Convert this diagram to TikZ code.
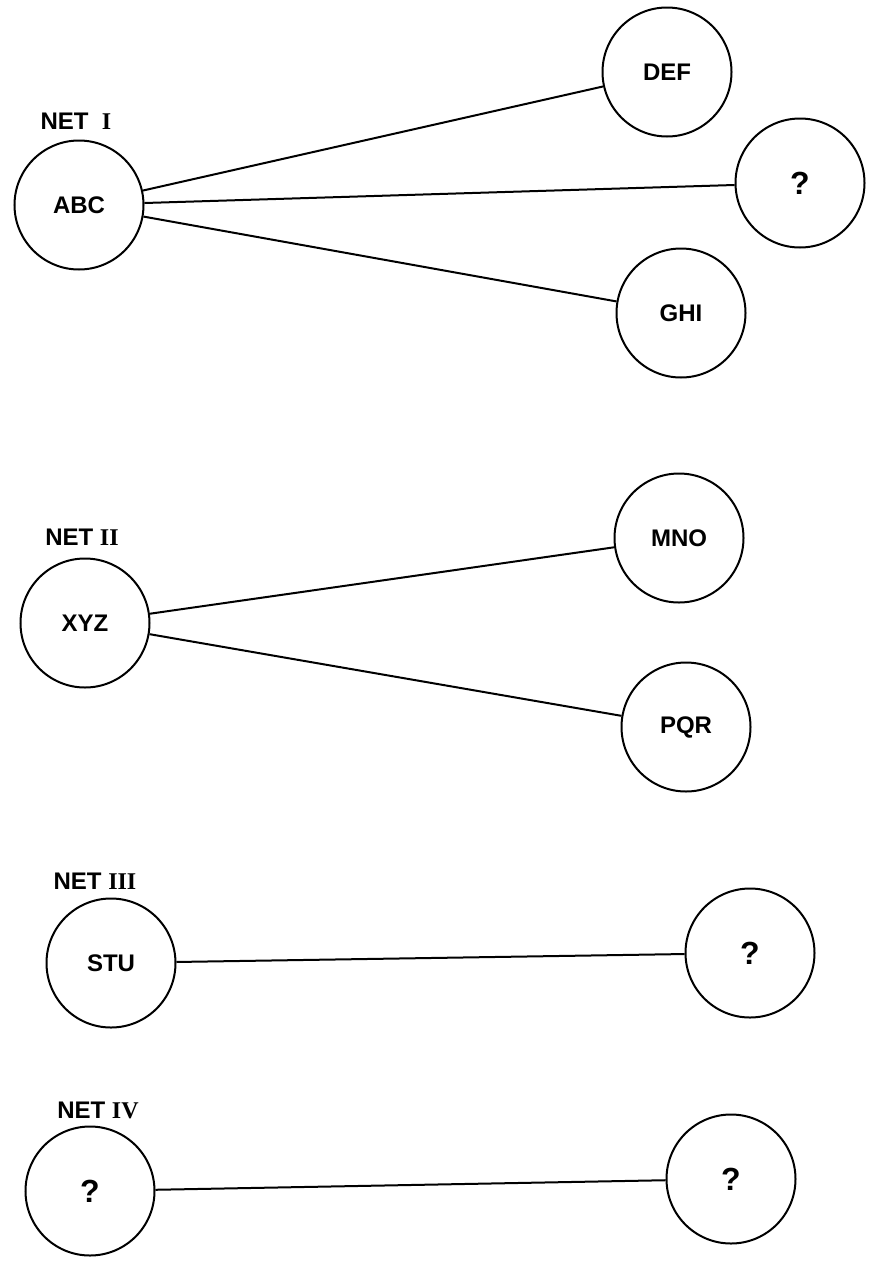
\documentclass[tikz,border=0pt]{standalone}
\usepackage{fontspec}
\setmainfont{Liberation Sans}
\newfontfamily\numeralfont{Liberation Serif}
\usetikzlibrary{positioning}

\begin{document}
\begin{tikzpicture}[x=1pt,y=-1pt,font=\fontsize{24}{28}\selectfont\bfseries,
 site/.style={draw,circle,line width=2pt,minimum size=129pt,inner sep=0pt},
 unknown/.style={site,font=\fontsize{32}{36}\selectfont\bfseries},
 netlabel/.style={inner sep=0pt},
 link/.style={line width=2pt}]
\useasboundingbox (0,0) rectangle (880,1261);
% net I
\node[site] (abc) at (79,205) {ABC};
\node[site] (def) at (667,72) {DEF};
\node[unknown] (qa) at (800,183) {?};
\node[site] (ghi) at (681,313) {GHI};
\node[netlabel,above=10pt of abc,xshift=-3pt] (net1) {NET\ \ {\numeralfont I}};
\draw[link] (abc) -- (def);
\draw[link] (abc) -- (qa);
\draw[link] (abc) -- (ghi);
% net II
\node[site] (xyz) at (85,623) {XYZ};
\node[site] (mno) at (679,538) {MNO};
\node[site] (pqr) at (686,727) {PQR};
\node[netlabel,above=12pt of xyz,xshift=-3pt] (net2) {NET {\numeralfont II}};
\draw[link] (xyz) -- (mno);
\draw[link] (xyz) -- (pqr);
% net III
\node[site] (stu) at (111,963) {STU};
\node[unknown] (qb) at (750,953) {?};
\node[netlabel,above=8pt of stu,xshift=-16pt] (net3) {NET {\numeralfont III}};
\draw[link] (stu) -- (qb);
% net IV
\node[unknown] (qc) at (90,1191) {?};
\node[unknown] (qd) at (731,1179) {?};
\node[netlabel,above=6pt of qc,xshift=8pt] (net4) {NET {\numeralfont IV}};
\draw[link] (qc) -- (qd);
\end{tikzpicture}
\end{document}
